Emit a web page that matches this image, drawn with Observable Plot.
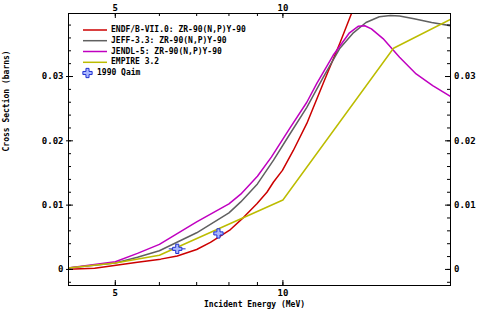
<!DOCTYPE html>
<html>
<head>
<meta charset="utf-8">
<script src="https://cdn.jsdelivr.net/npm/d3@7"></script>
<script src="https://cdn.jsdelivr.net/npm/@observablehq/plot@0.6"></script>
<style>
  html, body { margin: 0; padding: 0; background: white; }
  #wrap { position: relative; width: 480px; height: 310px; overflow: hidden; }
  #legend { position: absolute; left: 0; top: 0; font-family: "DejaVu Sans Mono", monospace; font-size: 8px; font-weight: bold; color: #000; }
  .lrow { position: absolute; white-space: nowrap; height: 10px; line-height: 10px; }
</style>
</head>
<body>
<div id="wrap"><div id="legend"></div></div>
<script>
// ---- data ----
const seriesNames = [
  "ENDF/B-VII.0: ZR-90(N,P)Y-90",
  "JEFF-3.3: ZR-90(N,P)Y-90",
  "JENDL-5: ZR-90(N,P)Y-90",
  "EMPIRE 3.2"
];
const seriesColors = ["#cc0000", "#606060", "#c000c0", "#bcbc00"];

const endfE  = [4.0, 4.59, 4.98, 5.48, 6.03, 6.46, 7.0, 7.41, 8.05, 8.5, 8.98, 9.36, 9.62, 9.98, 10.44, 11.04, 11.82, 12.66, 13.28, 13.6];
const endfXS = [0.0, 0.0002, 0.0006, 0.0011, 0.0016, 0.0021, 0.0031, 0.0042, 0.0062, 0.0081, 0.0102, 0.0120, 0.0136, 0.0154, 0.0185, 0.0227, 0.0290, 0.0352, 0.0398, 0.0422];

const jeffE  = [4.0, 5.0, 5.48, 6.0, 7.0, 8.0, 8.4, 9.0, 9.62, 10.3, 11.04, 11.82, 12.66, 13.35, 14.1, 14.9, 15.6, 16.2, 17.2, 18.5, 20.0];
const jeffXS = [0.0001, 0.0010, 0.0019, 0.0029, 0.0057, 0.0088, 0.0105, 0.0133, 0.0170, 0.0211, 0.0252, 0.0299, 0.0344, 0.0367, 0.0384, 0.0393, 0.0395, 0.0394, 0.0390, 0.0384, 0.0379];

const jendlE  = [4.0, 5.0, 5.48, 6.0, 7.0, 8.0, 8.4, 9.0, 9.54, 10.3, 11.04, 11.5, 12.31, 13.17, 13.65, 14.03, 14.42, 15.13, 16.2, 17.35, 18.58, 20.0];
const jendlXS = [0.0001, 0.0012, 0.0025, 0.0039, 0.0074, 0.0102, 0.0117, 0.0145, 0.0175, 0.0220, 0.0260, 0.0289, 0.0333, 0.0368, 0.0378, 0.0379, 0.0374, 0.0359, 0.0330, 0.0304, 0.0286, 0.0269];

const empireE  = [4.0, 5.0, 6.0, 10.0, 15.8, 20.0];
const empireXS = [0.0001, 0.0010, 0.0022, 0.0108, 0.0344, 0.0389];

const qaimE   = [6.46, 7.66];
const qaimXS  = [0.0032, 0.0056];
const qaimElo = [6.25, null];
const qaimEhi = [6.70, null];

const xTickValues = [5, 10];
const xTickLabels = ["5", "10"];
const xMinorTicks = [5, 6, 7, 8, 9, 10];
const yTickValues = [0, 0.01, 0.02, 0.03];
const yTickLabels = ["0", "0.01", "0.02", "0.03"];
const yMinorTicks = [-0.002, 0, 0.002, 0.004, 0.006, 0.008, 0.01, 0.012, 0.014, 0.016, 0.018, 0.02, 0.022, 0.024, 0.026, 0.028, 0.03, 0.032, 0.034, 0.036, 0.038];

const xLabel = "Incident Energy (MeV)";
const yLabel = "Cross Section (barns)";
const qaimLabel = "1990 Qaim";

// ---- build ----
const W = 480, H = 310, mL = 68, mR = 30, mT = 13, mB = 25;
const fw = W - mL - mR, fh = H - mT - mB;

const seriesE = [endfE, jeffE, jendlE, empireE];
const seriesXS = [endfXS, jeffXS, jendlXS, empireXS];
const lineData = [];
seriesNames.forEach((name, s) => {
  seriesE[s].forEach((e, i) => lineData.push({series: name, e, xs: seriesXS[s][i]}));
});
const qaim = qaimE.map((e, i) => ({e, xs: qaimXS[i], lo: qaimElo[i], hi: qaimEhi[i]}));

const xFmt = d => xTickLabels[xTickValues.indexOf(d)];
const yFmt = d => yTickLabels[yTickValues.indexOf(d)];

const chart = Plot.plot({
  width: W, height: H,
  marginLeft: mL, marginRight: mR, marginTop: mT, marginBottom: mB,
  style: {fontFamily: "'DejaVu Sans Mono', monospace", fontSize: "9px", fontWeight: "bold", background: "white", color: "black", overflow: "visible"},
  x: {type: "log", domain: [4.12, 20]},
  y: {domain: [-0.0025, 0.0398]},
  color: {domain: seriesNames, range: seriesColors},
  marks: [
    Plot.line(lineData, {x: "e", y: "xs", z: "series", stroke: "series", strokeWidth: 1.5, clip: true}),
    Plot.ruleY(qaim.filter(d => d.lo != null), {y: "xs", x1: "lo", x2: "hi", stroke: "#2030d0", strokeWidth: 1}),
    Plot.dot(qaim, {x: "e", y: "xs", symbol: "cross", r: 3.9, fill: "#aab8ff", stroke: "#2030d0", strokeWidth: 1}),
    Plot.frame({stroke: "black"}),
    // tick marks (inward)
    Plot.tickX(xMinorTicks, {x: d => d, insetTop: fh - 3, stroke: "black"}),
    Plot.tickX(xTickValues, {x: d => d, insetTop: fh - 5, stroke: "black"}),
    Plot.tickX(xMinorTicks, {x: d => d, insetBottom: fh - 3, stroke: "black"}),
    Plot.tickX(xTickValues, {x: d => d, insetBottom: fh - 5, stroke: "black"}),
    Plot.tickY(yMinorTicks, {y: d => d, insetRight: fw - 3, stroke: "black"}),
    Plot.tickY(yTickValues, {y: d => d, insetRight: fw - 5, insetLeft: -2, stroke: "black"}),
    Plot.tickY(yMinorTicks, {y: d => d, insetLeft: fw - 3, stroke: "black"}),
    Plot.tickY(yTickValues, {y: d => d, insetLeft: fw - 5, stroke: "black"}),
    // axis labels
    Plot.axisX(xTickValues, {anchor: "bottom", tickSize: 0, tickPadding: 4, tickFormat: xFmt, label: null}),
    Plot.axisX(xTickValues, {anchor: "top", tickSize: 0, tickPadding: 3, tickFormat: xFmt, label: null}),
    Plot.axisY(yTickValues, {anchor: "left", tickSize: 0, tickPadding: 5, tickFormat: yFmt, label: null}),
    Plot.axisY(yTickValues, {anchor: "right", tickSize: 0, tickPadding: 3.5, tickFormat: yFmt, label: null}),
    Plot.text([xLabel], {frameAnchor: "bottom", dy: 19, dx: -5, fontSize: 8, lineAnchor: "middle"}),
    Plot.text([yLabel], {frameAnchor: "left", rotate: -90, dx: -62, dy: 2, fontSize: 8})
  ]
});
document.getElementById("wrap").prepend(chart);

// ---- legend (overlay inside the plot frame) ----
const legend = document.getElementById("legend");
const svgNS = "http://www.w3.org/2000/svg";
const lsvg = document.createElementNS(svgNS, "svg");
lsvg.setAttribute("width", "40"); lsvg.setAttribute("height", "90");
lsvg.style.position = "absolute"; lsvg.style.left = "70px"; lsvg.style.top = "0px";
legend.appendChild(lsvg);
const rowY = [30, 40.7, 51.5, 62.3];
seriesNames.forEach((name, i) => {
  const ln = document.createElementNS(svgNS, "line");
  ln.setAttribute("x1", 13); ln.setAttribute("x2", 37);
  ln.setAttribute("y1", rowY[i]); ln.setAttribute("y2", rowY[i]);
  ln.setAttribute("stroke", seriesColors[i]); ln.setAttribute("stroke-width", 1.5);
  lsvg.appendChild(ln);
  const t = document.createElement("div");
  t.className = "lrow";
  t.style.left = "111px";
  t.style.top = (rowY[i] - 5) + "px";
  t.textContent = name;
  legend.appendChild(t);
});
const p = document.createElementNS(svgNS, "path");
p.setAttribute("d", d3.symbol(d3.symbolCross, Math.PI * 3.9 * 3.9)());
p.setAttribute("transform", "translate(17.5,73)");
p.setAttribute("fill", "#aab8ff"); p.setAttribute("stroke", "#2030d0");
lsvg.appendChild(p);
const qt = document.createElement("div");
qt.className = "lrow"; qt.style.left = "97px"; qt.style.top = "68px";
qt.textContent = qaimLabel;
legend.appendChild(qt);
</script>
</body>
</html>
